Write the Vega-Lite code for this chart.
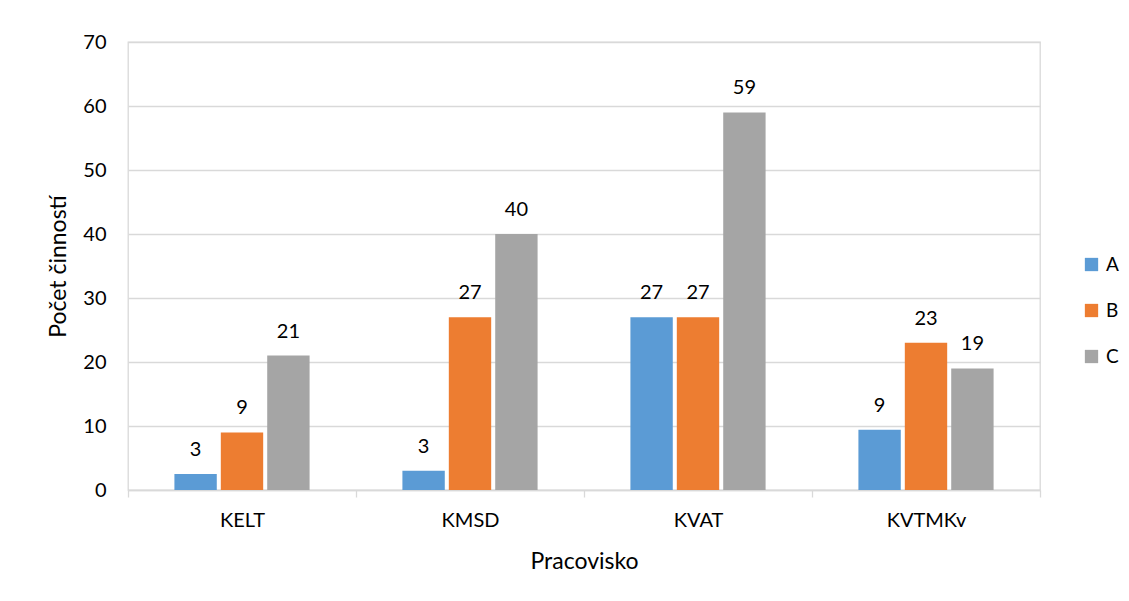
{
  "$schema": "https://vega.github.io/schema/vega-lite/v6.json",
  "width": 912,
  "height": 448,
  "autosize": {"type": "none"},
  "padding": {"left": 128, "top": 42, "right": 89, "bottom": 111},
  "background": "white",
  "config": {
    "font": "Lato",
    "view": {"stroke": "#d9d9d9", "strokeWidth": 1.3},
    "axis": {"labelColor": "#000000", "titleColor": "#000000", "labelFont": "Lato", "titleFont": "Lato"}
  },
  "data": {
    "values": [
      {"pracovisko": "KELT", "skupina": "A", "pocet": 2.5},
      {"pracovisko": "KELT", "skupina": "B", "pocet": 9},
      {"pracovisko": "KELT", "skupina": "C", "pocet": 21},
      {"pracovisko": "KMSD", "skupina": "A", "pocet": 3},
      {"pracovisko": "KMSD", "skupina": "B", "pocet": 27},
      {"pracovisko": "KMSD", "skupina": "C", "pocet": 40},
      {"pracovisko": "KVAT", "skupina": "A", "pocet": 27},
      {"pracovisko": "KVAT", "skupina": "B", "pocet": 27},
      {"pracovisko": "KVAT", "skupina": "C", "pocet": 59},
      {"pracovisko": "KVTMKv", "skupina": "A", "pocet": 9.4},
      {"pracovisko": "KVTMKv", "skupina": "B", "pocet": 23},
      {"pracovisko": "KVTMKv", "skupina": "C", "pocet": 19}
    ]
  },
  "encoding": {
    "x": {
      "field": "pracovisko",
      "type": "nominal",
      "scale": {"paddingInner": 0, "paddingOuter": 0},
      "axis": {
        "title": "Pracovisko",
        "titleFontSize": 23,
        "titleFontWeight": "normal",
        "titlePadding": 20,
        "labelAngle": 0,
        "labelFontSize": 20,
        "labelPadding": 13,
        "ticks": true,
        "tickBand": "extent",
        "tickSize": 7,
        "tickColor": "#d9d9d9",
        "tickWidth": 1.3,
        "domainColor": "#d9d9d9",
        "domainWidth": 1.3
      }
    },
    "xOffset": {
      "field": "skupina",
      "type": "nominal",
      "scale": {"paddingInner": 0.087, "paddingOuter": 1.02}
    },
    "y": {
      "field": "pocet",
      "type": "quantitative",
      "scale": {"domain": [0, 70], "nice": false},
      "axis": {
        "title": "Počet činností",
        "titleFontSize": 23,
        "titleFontWeight": "normal",
        "titlePadding": 12,
        "values": [0, 10, 20, 30, 40, 50, 60, 70],
        "labelFontSize": 20,
        "labelPadding": 22,
        "ticks": false,
        "domain": false,
        "grid": true,
        "gridColor": "#d9d9d9",
        "gridWidth": 1.3
      }
    }
  },
  "layer": [
    {
      "mark": {"type": "bar"},
      "encoding": {
        "color": {
          "field": "skupina",
          "type": "nominal",
          "scale": {"domain": ["A", "B", "C"], "range": ["#5b9bd5", "#ed7d31", "#a5a5a5"]},
          "legend": {
            "title": null,
            "orient": "none",
            "legendX": 954,
            "legendY": 213,
            "symbolType": "square",
            "symbolSize": 177,
            "symbolStrokeWidth": 0,
            "labelFontSize": 19,
            "labelColor": "#000000",
            "labelOffset": 5,
            "rowPadding": 26
          }
        }
      }
    },
    {
      "mark": {"type": "text", "baseline": "alphabetic", "dy": -18, "fontSize": 20, "color": "#000000"},
      "encoding": {
        "text": {"field": "pocet", "type": "quantitative", "format": ".0f"}
      }
    }
  ]
}
